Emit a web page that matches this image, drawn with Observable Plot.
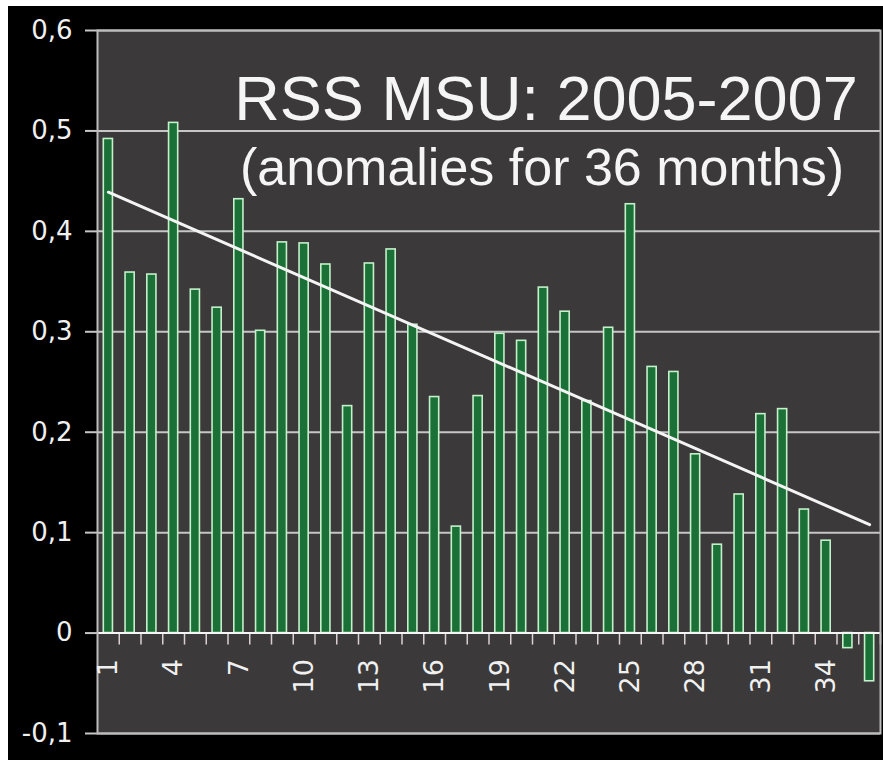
<!DOCTYPE html>
<html><head><meta charset="utf-8">
<script src="https://cdn.jsdelivr.net/npm/d3@7"></script>
<script src="https://cdn.jsdelivr.net/npm/@observablehq/plot@0.6"></script>
<style>
html,body{margin:0;padding:0;background:#fff;width:883px;height:760px;overflow:hidden;}
#chart{position:absolute;left:8px;top:6px;width:875px;height:754px;background:#000;}
</style></head><body><div id="chart"></div>
<script>
// ---- data ----
const months = [1,2,3,4,5,6,7,8,9,10,11,12,13,14,15,16,17,18,19,20,21,22,23,24,25,26,27,28,29,30,31,32,33,34,35,36];
const anomalies = [0.492,0.359,0.357,0.508,0.342,0.324,0.432,0.301,0.389,0.388,0.367,0.226,
                   0.368,0.382,0.307,0.235,0.106,0.236,0.298,0.291,0.344,0.320,0.231,0.304,
                   0.427,0.265,0.260,0.178,0.088,0.138,0.218,0.223,0.123,0.092,-0.015,-0.048];
const yTicks = [-0.1,0,0.1,0.2,0.3,0.4,0.5,0.6];
const xTickLabels = [1,4,7,10,13,16,19,22,25,28,31,34];
const trendMonths = [1,36];
const trendValues = [0.439,0.108];
const titleText = "RSS MSU: 2005-2007";
const subtitleText = "(anomalies for 36 months)";

// ---- layout ----
const W = 875, H = 754, mL = 89, mR = 3, mT = 24, mB = 27;
const step = (W - mL - mR) / months.length;
const px2y = k => k * 0.7 / (H - mT - mB);
const fmt = d => d === 0 ? "0" : d.toFixed(1).replace(".", ",");

const bars = months.map((m, i) => ({month: m, value: anomalies[i]}));
const trend = trendMonths.map((m, i) => ({month: m, value: trendValues[i]}));

const plot = Plot.plot({
  width: W, height: H,
  marginLeft: mL, marginRight: mR, marginTop: mT, marginBottom: mB,
  style: {background: "#000", color: "#f2f2f2", fontFamily: "'Liberation Sans', Arial, sans-serif", overflow: "visible"},
  x: {type: "band", domain: months, paddingInner: 0.58, paddingOuter: 0.29, align: 0.5, round: false, axis: null},
  y: {domain: [-0.1, 0.6], axis: null},
  marks: [
    Plot.frame({fill: "#3b3939", stroke: null}),
    Plot.ruleY(yTicks.filter(d => d !== 0), {y: d => d, stroke: "#c6c6c6", strokeWidth: 2}),
    Plot.axisY(yTicks, {tickSize: 12, tickPadding: 13, tickFormat: fmt, fontSize: 26,
      fontFamily: "'DejaVu Sans', sans-serif", stroke: "#c6c6c6", strokeWidth: 2, fill: "#f0f0f0", label: null}),
    Plot.barY(bars, {x: "month", y: "value", fill: "#1a7036", stroke: "#c4f0cb", strokeWidth: 1.6}),
    Plot.ruleX(months, {x: d => d, y1: 0, y2: -px2y(12), dx: step / 2, stroke: "#dcd0d4", strokeWidth: 1.5}),
    Plot.ruleY([0], {stroke: "#f5f5f5", strokeWidth: 2}),
    Plot.frame({stroke: "#bdbdbd", strokeWidth: 2}),
    Plot.text(xTickLabels, {x: d => d, y: 0, text: d => String(d), rotate: -90, textAnchor: "end", dy: 26,
      fontSize: 27, fontFamily: "'DejaVu Sans', sans-serif", fill: "#f0f0f0"}),
    Plot.line(trend, {x: "month", y: "value", stroke: "#f4f4f4", strokeWidth: 3}),
    Plot.text([titleText], {text: d => d, frameAnchor: "top", lineAnchor: "top", dx: 57, dy: 45,
      fontSize: 63, fill: "#f5f5f5"}),
    Plot.text([subtitleText], {text: d => d, frameAnchor: "top", lineAnchor: "top", dx: 53, dy: 118,
      fontSize: 52, fill: "#f5f5f5"})
  ]
});
document.getElementById("chart").appendChild(plot);
</script></body></html>
